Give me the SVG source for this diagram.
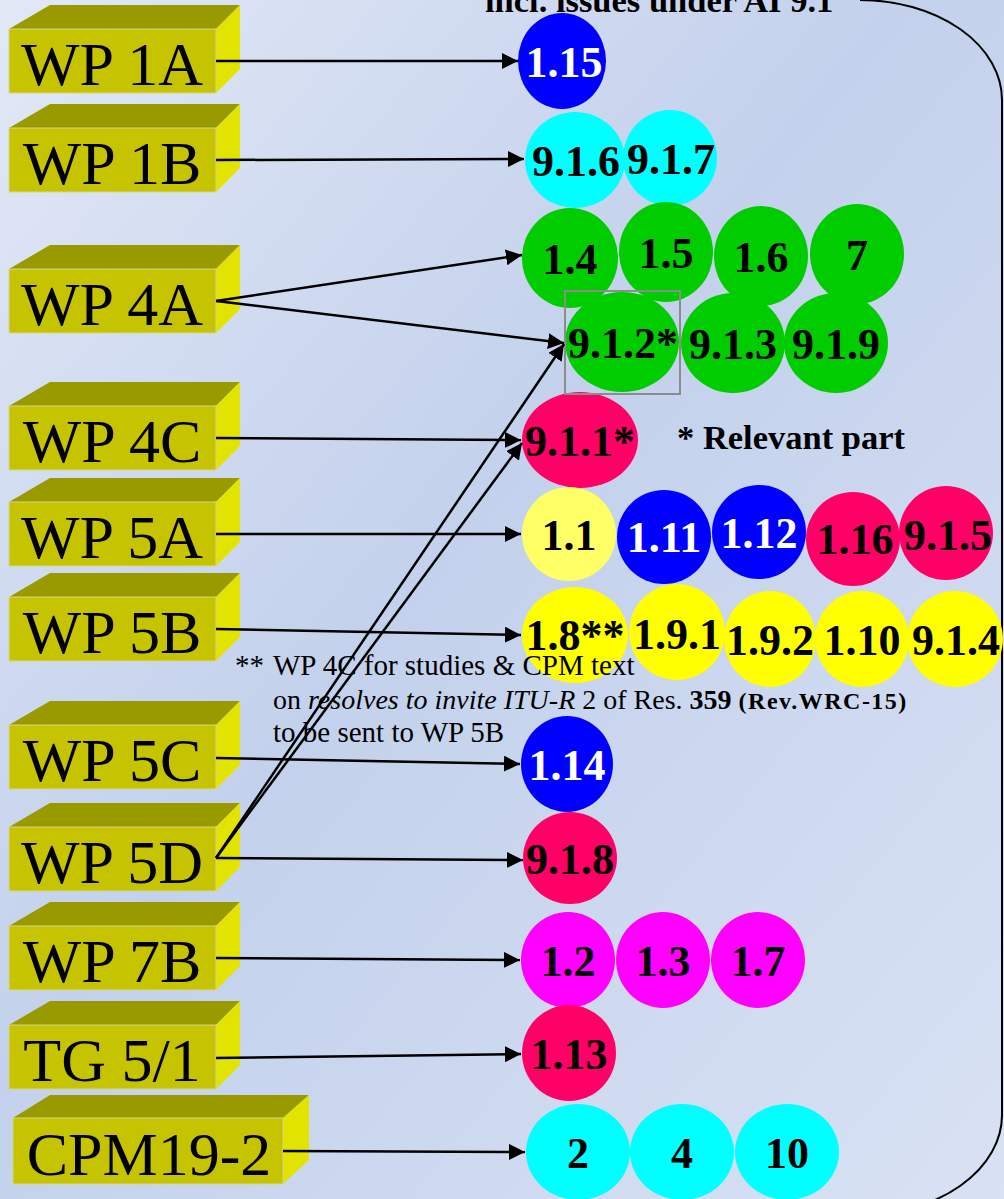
<svg xmlns="http://www.w3.org/2000/svg" width="1004" height="1199" viewBox="0 0 1004 1199">
<defs>
<linearGradient id="bg" x1="0" y1="0" x2="1" y2="1">
<stop offset="0" stop-color="#e2e8f6"/>
<stop offset="0.45" stop-color="#c3d1ec"/>
<stop offset="1" stop-color="#d9e2f4"/>
</linearGradient>
<marker id="ah" markerUnits="userSpaceOnUse" viewBox="0 0 16 16" markerWidth="16" markerHeight="16" refX="16" refY="8" orient="auto">
<path d="M0,0 L16,8 L0,16 z" fill="#000"/>
</marker>
<style>
.top{fill:#999900}
.side{fill:#e3e300}
.front{fill:#c6c300;stroke:#d6d690;stroke-width:1}
.bl{font-family:"Liberation Serif","Times New Roman",serif;font-size:62px;fill:#000;text-anchor:middle}
.cl{font-family:"Liberation Serif","Times New Roman",serif;font-size:44px;font-weight:bold;fill:#000;text-anchor:middle}
.wt{fill:#fff}
.blue{fill:#0000ff}.cyan{fill:#00ffff}.green{fill:#00cc00}.red{fill:#ff0066}.yel{fill:#ffff00}.lyel{fill:#ffff66}.mag{fill:#ff00ff}
.conn path{fill:none;stroke:#000;stroke-width:2.5;marker-end:url(#ah)}
.fn{font-family:"Liberation Serif","Times New Roman",serif;font-size:29px;fill:#000}
.hd{font-family:"Liberation Serif","Times New Roman",serif;font-size:34.5px;font-weight:bold;fill:#000}
</style>
</defs>
<rect x="0" y="0" width="1004" height="1199" fill="url(#bg)"/>
<path d="M860,0 A142,100 0 0 1 1002,100 L1002,1115 A142,100 0 0 1 860,1215" fill="none" stroke="#000" stroke-width="2"/>
<text class="hd" x="485" y="12">incl. issues under AI 9.1</text>

<g id="wp1a"><polygon class="top" points="9,29 50,5 240,5 216,29"/><polygon class="side" points="216,29 240,5 240,69 216,93"/><rect class="front" x="9" y="29" width="207" height="64"/><text class="bl" x="112" y="85">WP 1A</text></g>
<g id="wp1b"><polygon class="top" points="9,128 50,104 240,104 216,128"/><polygon class="side" points="216,128 240,104 240,168 216,192"/><rect class="front" x="9" y="128" width="207" height="64"/><text class="bl" x="112" y="184">WP 1B</text></g>
<g id="wp4a"><polygon class="top" points="9,269 50,245 240,245 216,269"/><polygon class="side" points="216,269 240,245 240,309 216,333"/><rect class="front" x="9" y="269" width="207" height="64"/><text class="bl" x="112" y="325">WP 4A</text></g>
<g id="wp4c"><polygon class="top" points="9,406 50,382 240,382 216,406"/><polygon class="side" points="216,406 240,382 240,446 216,470"/><rect class="front" x="9" y="406" width="207" height="64"/><text class="bl" x="112" y="462">WP 4C</text></g>
<g id="wp5a"><polygon class="top" points="9,502 50,478 240,478 216,502"/><polygon class="side" points="216,502 240,478 240,542 216,566"/><rect class="front" x="9" y="502" width="207" height="64"/><text class="bl" x="112" y="558">WP 5A</text></g>
<g id="wp5b"><polygon class="top" points="9,597 50,573 240,573 216,597"/><polygon class="side" points="216,597 240,573 240,637 216,661"/><rect class="front" x="9" y="597" width="207" height="64"/><text class="bl" x="112" y="653">WP 5B</text></g>
<g id="wp5c"><polygon class="top" points="9,725 50,701 240,701 216,725"/><polygon class="side" points="216,725 240,701 240,765 216,789"/><rect class="front" x="9" y="725" width="207" height="64"/><text class="bl" x="112" y="781">WP 5C</text></g>
<g id="wp5d"><polygon class="top" points="9,827 50,803 240,803 216,827"/><polygon class="side" points="216,827 240,803 240,867 216,891"/><rect class="front" x="9" y="827" width="207" height="64"/><text class="bl" x="112" y="883">WP 5D</text></g>
<g id="wp7b"><polygon class="top" points="9,926 50,902 240,902 216,926"/><polygon class="side" points="216,926 240,902 240,966 216,990"/><rect class="front" x="9" y="926" width="207" height="64"/><text class="bl" x="112" y="982">WP 7B</text></g>
<g id="tg51"><polygon class="top" points="9,1025 50,1001 240,1001 216,1025"/><polygon class="side" points="216,1025 240,1001 240,1065 216,1089"/><rect class="front" x="9" y="1025" width="207" height="64"/><text class="bl" x="112" y="1081">TG 5/1</text></g>
<g id="cpm"><polygon class="top" points="13,1118 50,1095 309,1095 283,1118"/><polygon class="side" points="283,1118 309,1095 309,1160 283,1184"/><rect class="front" x="13" y="1118" width="270" height="66"/><text class="bl" x="149" y="1175">CPM19-2</text></g>

<g id="ai-1-15"><ellipse class="blue" cx="562" cy="61" rx="44" ry="48"/><text class="cl wt" x="564" y="77">1.15</text></g>
<g id="ai-9-1-6"><ellipse class="cyan" cx="575" cy="160" rx="50" ry="48"/><text class="cl" x="576" y="176">9.1.6</text></g>
<g id="ai-9-1-7"><ellipse class="cyan" cx="670" cy="158" rx="47" ry="48"/><text class="cl" x="671" y="174">9.1.7</text></g>
<g id="ai-1-4"><ellipse class="green" cx="570" cy="258" rx="48" ry="50"/><text class="cl" x="570" y="274">1.4</text></g>
<g id="ai-1-5"><ellipse class="green" cx="666" cy="252" rx="47" ry="50"/><text class="cl" x="666" y="268">1.5</text></g>
<g id="ai-1-6"><ellipse class="green" cx="761" cy="256" rx="47" ry="50"/><text class="cl" x="761" y="272">1.6</text></g>
<g id="ai-7"><ellipse class="green" cx="857" cy="254" rx="47" ry="50"/><text class="cl" x="857" y="270">7</text></g>
<g id="ai-9-1-2"><ellipse class="green" cx="622" cy="342" rx="57" ry="50"/><text class="cl" x="623" y="358">9.1.2*</text></g>
<g id="ai-9-1-3"><ellipse class="green" cx="733" cy="343" rx="52" ry="50"/><text class="cl" x="733" y="359">9.1.3</text></g>
<g id="ai-9-1-9"><ellipse class="green" cx="836" cy="343" rx="52" ry="50"/><text class="cl" x="836" y="359">9.1.9</text></g>
<g id="ai-9-1-1"><ellipse class="red" cx="580" cy="440" rx="58" ry="48"/><text class="cl" x="580" y="456">9.1.1*</text></g>
<g id="ai-1-1"><ellipse class="lyel" cx="569" cy="534" rx="47" ry="47"/><text class="cl" x="569" y="550">1.1</text></g>
<g id="ai-1-11"><ellipse class="blue" cx="664" cy="537" rx="47" ry="47"/><text class="cl wt" x="664" y="552">1.11</text></g>
<g id="ai-1-12"><ellipse class="blue" cx="759" cy="532" rx="47" ry="47"/><text class="cl wt" x="759" y="548">1.12</text></g>
<g id="ai-1-16"><ellipse class="red" cx="853" cy="539" rx="47" ry="47"/><text class="cl" x="855" y="554">1.16</text></g>
<g id="ai-9-1-5"><ellipse class="red" cx="946" cy="533" rx="47" ry="47"/><text class="cl" x="948" y="550">9.1.5</text></g>
<g id="ai-1-8"><ellipse class="yel" cx="575" cy="635" rx="53" ry="48"/><text class="cl" x="575" y="650">1.8**</text></g>
<g id="ai-1-9-1"><ellipse class="yel" cx="677" cy="632" rx="48" ry="48"/><text class="cl" x="677" y="649">1.9.1</text></g>
<g id="ai-1-9-2"><ellipse class="yel" cx="770" cy="639" rx="46" ry="48"/><text class="cl" x="770" y="655">1.9.2</text></g>
<g id="ai-1-10"><ellipse class="yel" cx="862" cy="639" rx="47" ry="48"/><text class="cl" x="862" y="655">1.10</text></g>
<g id="ai-9-1-4"><ellipse class="yel" cx="955" cy="639" rx="48" ry="48"/><text class="cl" x="956" y="655">9.1.4</text></g>
<g id="ai-1-14"><ellipse class="blue" cx="567" cy="764" rx="46" ry="48"/><text class="cl wt" x="567" y="780">1.14</text></g>
<g id="ai-9-1-8"><ellipse class="red" cx="570" cy="858" rx="47" ry="46"/><text class="cl" x="570" y="874">9.1.8</text></g>
<g id="ai-1-2"><ellipse class="mag" cx="568" cy="960" rx="47" ry="48"/><text class="cl" x="568" y="976">1.2</text></g>
<g id="ai-1-3"><ellipse class="mag" cx="663" cy="960" rx="47" ry="48"/><text class="cl" x="663" y="976">1.3</text></g>
<g id="ai-1-7"><ellipse class="mag" cx="758" cy="960" rx="47" ry="48"/><text class="cl" x="758" y="976">1.7</text></g>
<g id="ai-1-13"><ellipse class="red" cx="569" cy="1053" rx="47" ry="48"/><text class="cl" x="569" y="1069">1.13</text></g>
<g id="ai-2"><ellipse class="cyan" cx="578" cy="1152" rx="52" ry="48"/><text class="cl" x="578" y="1168">2</text></g>
<g id="ai-4"><ellipse class="cyan" cx="682" cy="1152" rx="52" ry="48"/><text class="cl" x="682" y="1168">4</text></g>
<g id="ai-10"><ellipse class="cyan" cx="787" cy="1152" rx="52" ry="48"/><text class="cl" x="787" y="1168">10</text></g>

<rect id="relevant-box" x="565" y="291" width="115" height="103" fill="none" stroke="#8c8c8c" stroke-width="2"/>
<text class="hd" x="677" y="449" font-size="38">* Relevant part</text>

<g id="footnote" class="fn">
<text x="235" y="675">**</text>
<text x="273" y="675">WP 4C for studies &amp; CPM text</text>
<text x="273" y="709" font-size="28">on <tspan font-style="italic">resolves to invite ITU-R</tspan> 2 of Res. <tspan font-weight="bold">359</tspan> <tspan font-weight="bold" font-size="24" letter-spacing="1.5">(Rev.WRC-15)</tspan></text>
<text x="273" y="742">to be sent to WP 5B</text>
</g>

<g id="connectors" class="conn">
<path d="M216,61 L518,61"/>
<path d="M216,160 L524,159"/>
<path d="M216,301 L522,255"/>
<path d="M216,301 L564,343"/>
<path d="M216,438 L521,440"/>
<path d="M216,534 L521,534"/>
<path d="M216,629 L521,635"/>
<path d="M216,758 L520,764"/>
<path d="M216,858 L523,860"/>
<path d="M216,858 L564,344"/>
<path d="M216,858 L522,443"/>
<path d="M216,958 L520,960"/>
<path d="M216,1058 L521,1054"/>
<path d="M283,1151 L525,1152"/>
</g>
</svg>
